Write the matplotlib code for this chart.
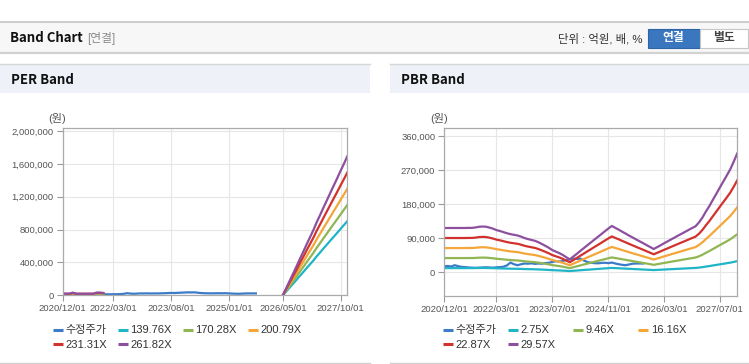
import numpy as np
import pandas as pd
import matplotlib
matplotlib.use("Agg")
import matplotlib.pyplot as plt
from matplotlib.patches import Rectangle
from matplotlib.ticker import FuncFormatter
import matplotlib.dates as mdates

plt.rcParams['font.family'] = ['Liberation Sans', 'Noto Sans CJK KR', 'DejaVu Sans']

# --- data (monthly) ---
price = [15800, 16500, 15000, 18500, 16000, 14000, 13500, 12500, 12000, 11500,
         12000, 12500, 13000, 12500, 12000, 13000, 13500, 14500, 18000, 25500,
         21000, 18500, 21000, 23000, 22500, 23500, 22000, 23000, 22500, 24000,
         25000, 27000, 29000, 28000, 30000, 32000, 34000, 36000, 35000, 36000,
         31000, 27000, 25000, 24000, 23500, 24500, 25000, 24000, 25500, 23000,
         21000, 19500, 18500, 20500, 22500, 23000, 23000, 23000]

# EPS used by the PER band (two stretches, gap in between)
eps_early = [75, 75, 75, 125, 75, 75, 75, 75, 75, 75, 125, 125, 110]          # 2020/12 ~ 2021/12
eps_late = [0, 335, 670, 1005, 1345, 1690, 2030, 2370, 2710, 3050,
            3395, 3735, 4080, 4420, 4760, 5100, 5440, 5780, 6120, 6460]      # 2026/05 ~ 2027/12

# BPS used by the PBR band, 2020/12 ~ 2027/12
bps = [3950, 3950, 3950, 3950, 3950, 3950, 3950, 3960, 3960, 4000,
       4060, 4080, 4060, 3980, 3880, 3760, 3680, 3580, 3480, 3400,
       3340, 3280, 3180, 3050, 2960, 2880, 2800, 2680, 2520, 2360,
       2180, 1980, 1840, 1700, 1540, 1330, 1150, 1400, 1650, 1900,
       2150, 2400, 2650, 2900, 3150, 3400, 3650, 3900, 4130, 3960,
       3790, 3620, 3450, 3270, 3100, 2930, 2760, 2590, 2420, 2250,
       2070, 2240, 2410, 2580, 2750, 2920, 3090, 3260, 3430, 3600,
       3770, 3940, 4100, 4450, 4900, 5400, 5900, 6450, 7000, 7550,
       8100, 8650, 9200, 9900, 10620]

per_multiples = [139.76, 170.28, 200.79, 231.31, 261.82]
pbr_multiples = [2.75, 9.46, 16.16, 22.87, 29.57]
per_labels = ['수정주가', '139.76X', '170.28X', '200.79X', '231.31X', '261.82X']
pbr_labels = ['수정주가', '2.75X', '9.46X', '16.16X', '22.87X', '29.57X']
per_xticks = ['2020/12/01', '2022/03/01', '2023/08/01', '2025/01/01', '2026/05/01', '2027/10/01']
pbr_xticks = ['2020/12/01', '2022/03/01', '2023/07/01', '2024/11/01', '2026/03/01', '2027/07/01']
per_yticks = [0, 400000, 800000, 1200000, 1600000, 2000000]
pbr_yticks = [0, 90000, 180000, 270000, 360000]

colors = ['#3b7bc8', '#1fb4c6', '#8fb653', '#f4a638', '#d2322d', '#8d4f9e']

months = pd.date_range('2020-12-01', '2027-12-01', freq='MS')
price_s = pd.Series(price, index=months[:len(price)]).reindex(months)
eps_s = pd.concat([
    pd.Series(eps_early, index=pd.date_range('2020-12-01', periods=len(eps_early), freq='MS')),
    pd.Series(eps_late, index=pd.date_range('2026-05-01', periods=len(eps_late), freq='MS')),
]).reindex(months)
bps_s = pd.Series(bps, index=months)

W, H = 749, 364
fig = plt.figure(figsize=(W / 100, H / 100), dpi=100)
fig.patch.set_facecolor('white')

# background layer in pixel coordinates (y down)
bg = fig.add_axes([0, 0, 1, 1])
bg.set_xlim(0, W)
bg.set_ylim(H, 0)
bg.axis('off')

# top header
bg.add_patch(Rectangle((0, 22), W, 30.5, fc='#f7f7f7', ec='none'))
bg.plot([0, W], [21.8, 21.8], color='#c4c4c4', lw=1.2)
bg.plot([0, W], [52.8, 52.8], color='#d2d2d2', lw=1.6)
bg.text(10, 38.5, 'Band Chart', fontsize=9.5, fontweight='bold', color='#111',
        va='center', family=['Noto Sans CJK KR', 'DejaVu Sans'])
bg.text(87, 38.5, '[연결]', fontsize=8.5, color='#8a8a8a', va='center')
bg.text(642, 38.5, '단위 : 억원, 배, %', fontsize=8.2, color='#333', va='center', ha='right')
bg.add_patch(Rectangle((647.5, 28.5), 52, 19, fc='#3a77be', ec='#2e64a4', lw=0.8))
bg.add_patch(Rectangle((699.5, 28.5), 48.5, 19, fc='white', ec='#c6c6c6', lw=0.8))
bg.text(673.5, 38.2, '연결', fontsize=8.5, fontweight='bold', color='white', ha='center', va='center')
bg.text(723.5, 38.2, '별도', fontsize=8.5, fontweight='bold', color='#444', ha='center', va='center')

# panel headers and bottoms
for x0, x1, title in [(0, 370, 'PER Band'), (390, W, 'PBR Band')]:
    bg.add_patch(Rectangle((x0, 64.5), x1 - x0, 28.5, fc='#eef2f8', ec='none'))
    bg.plot([x0, x1], [64.3, 64.3], color='#d6d6d6', lw=1)
    bg.plot([x0, x1], [362.5, 362.5], color='#d0d0d0', lw=1)
    bg.text(x0 + 11, 79.5, title, fontsize=9.5, fontweight='bold', color='#111',
            va='center', family=['Noto Sans CJK KR', 'DejaVu Sans'])


def px_axes(l, t, r, b):
    return fig.add_axes([l / W, 1 - b / H, (r - l) / W, (b - t) / H])


def style_axes(ax, xticks, yticks, ylim):
    ax.set_facecolor('white')
    ax.set_xlim(months[0], months[-1])
    ax.set_ylim(*ylim)
    ax.set_xticks(pd.to_datetime(xticks))
    ax.xaxis.set_major_formatter(mdates.DateFormatter('%Y/%m/%d'))
    ax.set_yticks(yticks)
    ax.yaxis.set_major_formatter(FuncFormatter(lambda v, p: f'{int(v):,}'))
    ax.grid(True, color='#e6e6e6', lw=0.8)
    ax.set_axisbelow(True)
    for s in ax.spines.values():
        s.set_color('#aaaaaa')
        s.set_linewidth(0.9)
    ax.tick_params(axis='both', length=4.5, width=0.8, color='#999999',
                   labelsize=6.8, labelcolor='#555555', pad=2)


def draw_legend(x0, labels):
    for i, (lab, c) in enumerate(zip(labels, colors)):
        col, row = i % 4, i // 4
        x = x0 + col * 65
        y = 329.5 + row * 14.7
        bg.plot([x, x + 10], [y, y], color=c, lw=2.2, solid_capstyle='butt')
        bg.text(x + 12.5, y + 0.3, lab, fontsize=8, color='#333', va='center')


# PER band
ax1 = px_axes(62.7, 128.3, 347.3, 295.3)
ax1.plot(months, price_s.values, color=colors[0], lw=1.6)
for m, c in zip(per_multiples, colors[1:]):
    ax1.plot(months, (eps_s * m).values, color=c, lw=1.6)
style_axes(ax1, per_xticks, per_yticks, (0, 2033000))
bg.text(57, 118.5, '(원)', fontsize=8, color='#555', ha='center', va='center')
draw_legend(53, per_labels)

# PBR band
ax2 = px_axes(444.3, 128.3, 737.3, 295.7)
ax2.plot(months, price_s.values, color=colors[0], lw=1.6)
for m, c in zip(pbr_multiples, colors[1:]):
    ax2.plot(months, (bps_s * m).values, color=c, lw=1.6)
style_axes(ax2, pbr_xticks, pbr_yticks, (-62000, 380000))
bg.text(439, 118.5, '(원)', fontsize=8, color='#555', ha='center', va='center')
draw_legend(443.3, pbr_labels)

fig.savefig('out.png', dpi=100)
